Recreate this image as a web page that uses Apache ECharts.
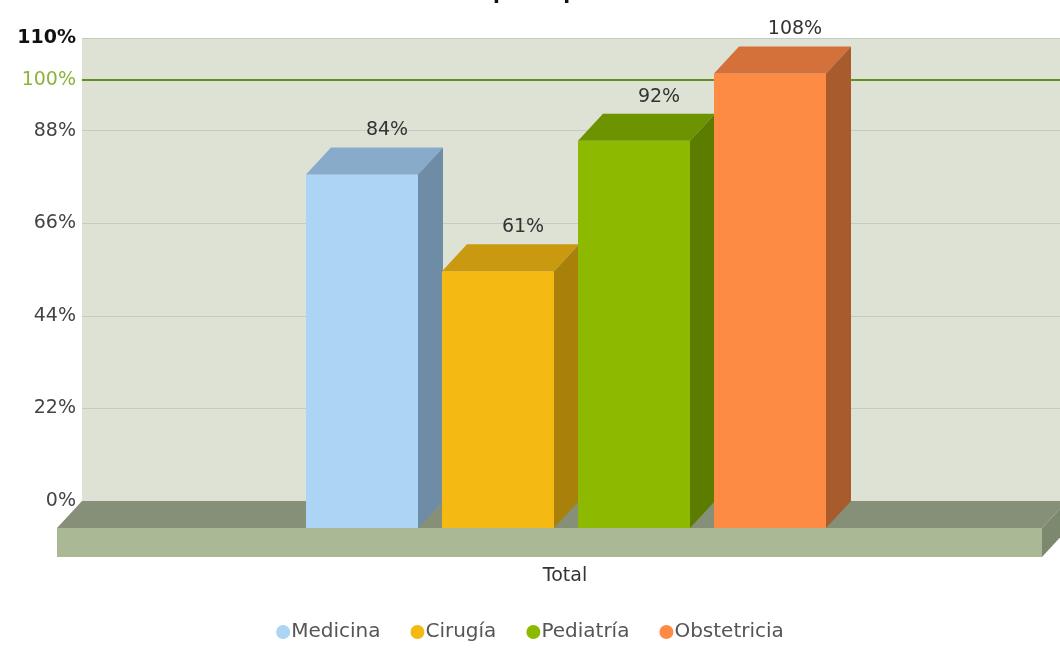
<!DOCTYPE html>
<html>
<head>
<meta charset="utf-8">
<script src="https://cdn.jsdelivr.net/npm/echarts@6/dist/echarts.min.js"></script>
<style>
  html, body { margin: 0; padding: 0; background: #fff; }
  #chart { width: 1060px; height: 649px; }
</style>
</head>
<body>
<div id="chart"></div>
<script>
// datos
const categories = ['Total'];
const seriesNames = ['Medicina', 'Cirugía', 'Pediatría', 'Obstetricia'];
const medicina = [84];
const cirugia = [61];
const pediatria = [92];
const obstetricia = [108];
const yTicks = [0, 22, 44, 66, 88, 110];
const targetValue = 100;

const seriesValues = [medicina, cirugia, pediatria, obstetricia];

// colores: frente, techo, lado
const barColors = [
  ['#acd5f5', '#88abcc', '#6e8ca6'],
  ['#f4b913', '#c99a0f', '#a9800a'],
  ['#8dba00', '#6e9300', '#5c7c00'],
  ['#fd8b43', '#d4713b', '#a85b2c'],
];

// profundidad 3D
const DX = 25;
const DY = 27;
const BAR_W = 112;
const BAR_STEP = 136;
const GROUP_SHIFT = -265;
const FLOOR_H = 29;
const FLOOR_EXTRA = 7; // el piso sigue un poco fuera del borde derecho
const FONT = 'DejaVu Sans';

let chartEl = document.getElementById('chart');
let myChart = echarts.init(chartEl);

function renderBar(idx) {
  return function (params, api) {
    let top = api.coord([api.value(0), api.value(1)]);
    let base = api.coord([api.value(0), 0]);
    let c = barColors[idx];
    // cara frontal
    let xf = top[0] + GROUP_SHIFT + idx * BAR_STEP;
    let yt = top[1] + DY;
    let yb = base[1] + DY;
    return {
      type: 'group',
      children: [
        {
          type: 'rect',
          shape: { x: xf, y: yt, width: BAR_W, height: yb - yt },
          style: { fill: c[0] },
        },
        {
          type: 'polygon',
          shape: { points: [[xf, yt], [xf + DX, top[1]], [xf + BAR_W + DX, top[1]], [xf + BAR_W, yt]] },
          style: { fill: c[1] },
        },
        {
          type: 'polygon',
          shape: { points: [[xf + BAR_W, yt], [xf + BAR_W + DX, top[1]], [xf + BAR_W + DX, base[1]], [xf + BAR_W, yb]] },
          style: { fill: c[2] },
        },
        {
          type: 'text',
          style: {
            x: xf + DX + BAR_W / 2,
            y: top[1] - 17,
            text: api.value(1) + '%',
            align: 'center',
            verticalAlign: 'middle',
            fill: '#333',
            font: '19px "DejaVu Sans"',
          },
        },
      ],
    };
  };
}

function renderFloor(params, api) {
  let cs = params.coordSys;
  let left = cs.x;
  let right = cs.x + cs.width + FLOOR_EXTRA;
  let y0 = cs.y + cs.height;
  return {
    type: 'group',
    children: [
      {
        type: 'polygon',
        shape: { points: [[left, y0], [right, y0], [right - DX, y0 + DY], [left - DX, y0 + DY]] },
        style: { fill: '#868f78' },
      },
      {
        type: 'rect',
        shape: { x: left - DX, y: y0 + DY, width: right - left, height: FLOOR_H },
        style: { fill: '#abb895' },
      },
      {
        type: 'polygon',
        shape: { points: [[right - DX, y0 + DY], [right, y0], [right, y0 + FLOOR_H], [right - DX, y0 + DY + FLOOR_H]] },
        style: { fill: '#7d896f' },
      },
    ],
  };
}

let series = [
  {
    name: 'piso',
    type: 'custom',
    renderItem: renderFloor,
    data: [[0, 0]],
    z: 1,
    silent: true,
    markLine: {
      silent: true,
      symbol: 'none',
      z: 1,
      lineStyle: { color: '#5f8f1c', width: 2, type: 'solid' },
      label: {
        show: true,
        position: 'start',
        formatter: targetValue + '%',
        color: '#8db33a',
        fontSize: 19,
        fontFamily: FONT,
        distance: 6,
      },
      data: [{ yAxis: targetValue }],
    },
  },
];

seriesNames.forEach((name, i) => {
  series.push({
    name: name,
    type: 'custom',
    renderItem: renderBar(i),
    itemStyle: { color: barColors[i][0] },
    data: seriesValues[i].map((v, j) => [j, v]),
    z: 3,
  });
});

let option = {
  animation: false,
  textStyle: { fontFamily: FONT },
  title: {
    text: 'por especialidad',
    left: 488,
    top: -21,
    textStyle: { fontSize: 20, fontWeight: 'bold', color: '#111', fontFamily: FONT },
  },
  legend: {
    data: seriesNames,
    bottom: 2,
    left: 'center',
    icon: 'circle',
    itemWidth: 14,
    itemHeight: 14,
    itemGap: 30,
    textStyle: { fontSize: 20, color: '#555', fontFamily: FONT, padding: [0, 0, 0, -4] },
  },
  grid: {
    left: 82,
    right: 0,
    top: 38,
    bottom: 148,
    show: true,
    backgroundColor: '#dde2d5',
    borderWidth: 0,
  },
  xAxis: {
    type: 'category',
    data: categories,
    axisLine: { show: false },
    axisTick: { show: false },
    axisLabel: {
      margin: 66,
      fontSize: 19,
      color: '#333',
      fontFamily: FONT,
      padding: [0, 12, 0, 0],
    },
  },
  yAxis: {
    type: 'value',
    min: yTicks[0],
    max: yTicks[yTicks.length - 1],
    interval: yTicks[1] - yTicks[0],
    axisLine: { show: false },
    axisTick: { show: false },
    splitLine: { lineStyle: { color: '#c6cbbf', width: 1 } },
    axisLabel: {
      margin: 6,
      fontSize: 19,
      color: '#444',
      fontFamily: FONT,
      formatter: (value) => {
        if (value === yTicks[yTicks.length - 1]) {
          return '{b|' + value + '%}';
        }
        return value + '%';
      },
      rich: {
        b: { fontSize: 19, fontWeight: 'bold', color: '#111', fontFamily: FONT },
      },
    },
  },
  series: series,
};

option && myChart.setOption(option);
</script>
</body>
</html>
